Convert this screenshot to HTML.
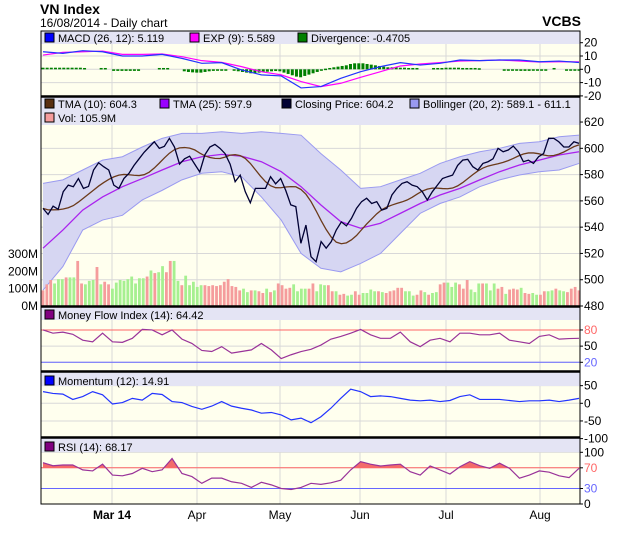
<!DOCTYPE html>
<html><head><meta charset="utf-8"><style>
html,body{margin:0;padding:0;background:#fff;}
svg{display:block;font-family:"Liberation Sans",Arial,sans-serif;}
</style></head><body>
<svg id="chart" width="620" height="535" viewBox="0 0 620 535" xmlns="http://www.w3.org/2000/svg">
<text x="40" y="14" font-size="14" font-weight="bold">VN Index</text>
<text x="40" y="27" font-size="12">16/08/2014 - Daily chart</text>
<text x="581" y="26" font-size="14" font-weight="bold" text-anchor="end">VCBS</text>
<g id="panels"></g>
<g id="marks"></g>
<g id="frame"></g>
</svg>
<script>
// ---------- data ----------
const closePrices=[554.3,549.7,556,553.6,567,572,570.8,577,569.5,571,583.5,589,586,583.5,572,569.5,577,581,587,592,597,601,605,600,601.5,607.6,601,588,592,594,588,582,595,601,603,600,596,588,574.6,579.6,567,558.6,569.5,569.5,569.5,578.4,573,577,568,557,555.6,527.7,541.6,517.5,513.7,529,524,529,537.8,544,541,546.7,554.3,559.4,562,558,559.4,553,554.3,564.5,569.5,573.3,574.6,572,570.8,567,560.7,567,572,577,578.4,579.6,587,591,591.6,586,583.5,588.5,589.8,592,600,597.4,598.7,601.7,597.4,589.8,591,588.5,593.6,596,607.6,607.6,605,601,601,605,603.8];
const bollUpper=[573.3,576,583.5,591,593.6,601,607.6,611.4,611.4,612.6,611.4,612.6,611.4,610,596,583.5,569.5,570.8,576,581,588.5,593.6,597.4,600,603.8,605,608.8,610];
const bollLower=[492,510,537.8,545.4,549,560.7,568,576,581,582.2,578.4,563,545.4,520,508.7,506,512.4,520,535.3,550.5,558,563,570.8,576,579.7,582.2,583.5,588.5];
const tma25=[524,537.8,553,563,570.8,577,583.5,589.8,593.6,595.4,594,589.8,582.2,570.8,556.9,544.2,539.2,543,550.5,558,564.5,569.5,576,582.2,587.3,591,594.9,597.4];
const volume=[90,125,150,130,155,155,165,165,165,260,130,125,145,150,225,125,140,125,100,135,150,145,155,170,130,160,160,170,205,190,195,230,195,260,260,145,120,175,120,140,110,120,120,115,120,115,120,140,155,115,110,90,100,80,90,90,85,75,100,80,90,130,120,100,105,125,85,100,100,100,130,85,125,120,120,85,85,65,70,60,65,85,65,75,75,95,85,85,80,75,85,90,105,105,85,85,60,65,90,80,65,75,80,125,135,135,110,135,125,100,150,95,80,130,130,130,90,130,100,110,70,95,100,95,105,75,70,75,65,65,85,85,90,100,90,85,80,100,110,90];
const volDir="rrrgggrggrrgggrgrrgggggggggrgrggrrggrgggggrrrrrrrrrrggrgrrgrgrrrrggggrrgggrrgrrggrrggggrgrrrrrgggrrgrggrrgggrrrgggrgggrrgrrrgrrggrrggrggr";
const macdLine=[13.2,12,14,13.2,10,10,11.2,8.2,4.5,5,-0.5,-4.2,-5,-14,-13,-6.8,-1.8,2,5,3.2,4.5,7,6.5,7,7,5.7,6.2,5.1];
const expLine=[10.7,12.7,13.2,13.7,11.2,11.2,11.5,9.5,6.5,5.2,2,-1.8,-4.2,-9.2,-13,-10.5,-6,-1.8,2.5,4,5,6.2,6.5,7,6.2,5.5,5.7,5.6];
const divergence=[1.2,1.2,1.2,1.2,1.2,1.2,1.2,1.2,1.2,1.2,1,0,0,0,1,1,0,-1.2,-1.2,-1.2,-1.2,-1.2,-1.2,-1.2,0,0,0,0,1,1,1,0,0,0,-1.5,-2,-2.3,-2.5,-2.5,-2,-1.5,-1.2,-1,-1,-0.5,0,-0.8,-1.5,-2,-2.5,-3,-3,-2.5,-2,-1.8,-1.5,-1.3,-1.5,-2.5,-3.5,-4.5,-5.5,-6,-5,-4,-3,-2,-0.5,0.5,1,1.5,2,2.5,3,4,4.5,4.5,4.5,4,3.5,3,2.5,2,1.5,1.5,1.5,1.2,1.2,1,1,1,0,0,0,1,1,1,1.2,1.2,1.2,1.2,1,1,1,1,0.8,0,0,0,0,0,-0.8,-0.8,-1,-1,-1.2,-1.2,-1.2,-1,-1,-1,-0.8,0,1,0,0,-1,-1,-1,-0.5];
const mfi=[80,74,76,72,61,58,74,58,57,64.5,81,80,71,80,63,55,42,40,49,37,40,43,55,43,27,34,40,44,52,63,68,74,81,71,64.5,64.5,76,58,49,61,64.5,58,74,74,71,71,74,61,58,55,68,71,63,64,64.5];
const momentum=[33,28,26,11,19,33,24,-2,2,14,9,28,25,5,2,-9,-17,-8,5,-8,-14,-19,-28,-26,-33,-47,-42,-55,-38,-14,14,40,33,19,21,19,14,9,7,9,5,8,19,24,11,11,11,8,5,7,7,9,5,9,14];
const rsi=[80,74,75.5,75.5,66,64,77,56,54.5,59,69,62.5,66,88,59,53,40,50,50,43,40,32,42,37,30,28,32,40,38,41,46,66,82,77,73.5,75.5,77,62.5,56,73.5,66,58,72,82,74,69,79,69,50,56,64,61.5,54.5,51,69];
const monthLabels=["Mar 14","Apr","May","Jun","Jul","Aug"];
const monthPos=[112,197,280,360,446,540];
const priceTicks=[620,600,580,560,540,520,500,480];
const volTicks=[0,100,200,300];
const macdTicks=[20,10,0,-10,-20];
const mfiTicks=[80,50,20];
const momTicks=[50,0,-50,-100];
const rsiTicks=[100,70,30,0];

// ---------- scales ----------
const X0=41,X1=580,XS=43,XE=579;
const xIdx=(i,n)=>XS+i*(XE-XS)/(n-1);
const yMacd=v=>69.3-v*1.33;
const yPrice=v=>306-(v-480)*1.314;
const yVol=v=>306-v*0.1733;
const yMfi=v=>362.3-(v-20)*0.539;
const yMom=v=>403.3-v*0.353;
const yRsi=v=>504-v*0.517;
const NS="http://www.w3.org/2000/svg";
function mk(parent,tag,attrs,txt){const e=document.createElementNS(NS,tag);for(const k in attrs)e.setAttribute(k,attrs[k]);if(txt!==undefined)e.textContent=txt;parent.appendChild(e);return e;}
const P=document.getElementById('panels'),M=document.getElementById('marks'),F=document.getElementById('frame');
const lineD=(arr,ys)=>arr.map((v,i)=>(i?'L':'M')+xIdx(i,arr.length).toFixed(2)+' '+ys(v).toFixed(2)).join(' ');

// ---------- panel backgrounds ----------
const panels=[
 {name:'macd',top:31,bot:96,head:44},
 {name:'price',top:97,bot:306,head:125},
 {name:'mfi',top:307,bot:371,head:320},
 {name:'momentum',top:372,bot:437,head:386},
 {name:'rsi',top:438,bot:504,head:452}];
panels.forEach(p=>{
 let r=mk(P,'rect',{x:X0,y:p.top,width:X1-X0,height:p.bot-p.top,fill:'#ffffee'});
 
 
 monthPos.forEach(x=>{let g=mk(P,'line',{x1:x,x2:x,y1:p.top,y2:p.bot,stroke:'#d8d8d8','stroke-width':1});
  
  });
});
function hgrid(ticks,ys,top,bot){ticks.forEach(t=>{const y=ys(t);if(y>top+1&&y<bot-1){let g=mk(P,'line',{x1:X0,x2:X1,y1:y,y2:y,stroke:'#d8d8d8','stroke-width':1});
 
 }});}
hgrid(macdTicks,yMacd,31,96);hgrid(priceTicks,yPrice,97,306);hgrid(mfiTicks,yMfi,307,371);hgrid(momTicks,yMom,372,437);hgrid(rsiTicks,yRsi,438,504);
panels.forEach(p=>{let h=mk(P,'rect',{x:X0,y:p.top,width:X1-X0,height:p.head-p.top,fill:'#e4e4f4'});
 
 });

// ---------- MACD ----------
divergence.forEach((v,i)=>{if(v===0)return;const x=xIdx(i,divergence.length);const y0=yMacd(0),y1=yMacd(v);
 let b=mk(M,'rect',{x:x-1.5,y:Math.min(y0,y1),width:3,height:Math.max(1.5,Math.abs(y1-y0)),fill:'#008000'});
 
 });
let ex=mk(M,'path',{d:lineD(expLine,yMacd),fill:'none',stroke:'#ff00ff','stroke-width':1.2});


let mc=mk(M,'path',{d:lineD(macdLine,yMacd),fill:'none',stroke:'#2233ff','stroke-width':1.2});



// ---------- price panel ----------
const nb=bollUpper.length;
let bd=bollUpper.map((v,i)=>(i?'L':'M')+xIdx(i,nb)+' '+yPrice(v)).join(' ');
for(let i=nb-1;i>=0;i--)bd+=' L'+xIdx(i,nb)+' '+yPrice(bollLower[i]);
let band=mk(M,'path',{d:bd+' Z',fill:'#d6d6f2',stroke:'none'});


let bu=mk(M,'path',{d:lineD(bollUpper,yPrice),fill:'none',stroke:'#9a9af0','stroke-width':1});


let bl=mk(M,'path',{d:lineD(bollLower,yPrice),fill:'none',stroke:'#9a9af0','stroke-width':1});


volume.forEach((v,i)=>{const x=xIdx(i,volume.length);
 let b=mk(M,'rect',{x:x-1.4,y:yVol(v),width:2.8,height:306-yVol(v),fill:volDir[i]==='g'?'#a6f090':'#f59c9c'});
 
 });
function sma(a,w){return a.map((_,i)=>{const s=a.slice(Math.max(0,i-w+1),i+1);return s.reduce((p,c)=>p+c,0)/s.length;});}
const tma10=sma(sma(closePrices,5),6);
let t25=mk(M,'path',{d:lineD(tma25,yPrice),fill:'none',stroke:'#aa22ee','stroke-width':1.3});


let t10=mk(M,'path',{d:lineD(tma10,yPrice),fill:'none',stroke:'#6b3a1a','stroke-width':1.3});


let cl=mk(M,'path',{d:lineD(closePrices,yPrice),fill:'none',stroke:'#000033','stroke-width':1.3});



// ---------- MFI ----------
[[80,'#ff6666'],[20,'#6666ff']].forEach(([v,c])=>{let l=mk(M,'line',{x1:X0,x2:X1,y1:yMfi(v),y2:yMfi(v),stroke:c,'stroke-width':1});
 
 });
let mf=mk(M,'path',{d:lineD(mfi,yMfi),fill:'none',stroke:'#993399','stroke-width':1.2});



// ---------- Momentum ----------
let mo=mk(M,'path',{d:lineD(momentum,yMom),fill:'none',stroke:'#2233ff','stroke-width':1.2});



// ---------- RSI ----------
const y70=yRsi(70);
let cp=mk(M,'clipPath',{id:'above70'});mk(cp,'rect',{x:X0,y:438,width:X1-X0,height:y70-438});
let rf=mk(M,'path',{d:lineD(rsi,yRsi)+` L${XE} ${y70} L${XS} ${y70} Z`,fill:'#f26b6b',stroke:'none','clip-path':'url(#above70)'});


[[70,'#ff6666'],[30,'#6666ff']].forEach(([v,c])=>{let l=mk(M,'line',{x1:X0,x2:X1,y1:yRsi(v),y2:yRsi(v),stroke:c,'stroke-width':1});
 
 });
let rl=mk(M,'path',{d:lineD(rsi,yRsi),fill:'none',stroke:'#993399','stroke-width':1.2});



// ---------- frame, ticks, legends ----------
let fr=mk(F,'rect',{x:X0,y:31,width:X1-X0,height:473,fill:'none',stroke:'#000','stroke-width':1});


[96.5,306.5,371.5,437.5].forEach(y=>{let s=mk(F,'line',{x1:X0,x2:X1,y1:y,y2:y,stroke:'#000','stroke-width':2.5});
 
 });
function ticks(arr,ys,col){arr.forEach(t=>{const y=ys(t);
 let tk=mk(F,'line',{x1:X1,x2:X1+3,y1:y,y2:y,stroke:'#000'});
 
 
 let lb=mk(F,'text',{x:X1+4,y:y+4,'font-size':12,fill:col?col(t):'#000'},String(t));
 
 });}
ticks(macdTicks,yMacd);ticks(priceTicks,yPrice);
ticks(mfiTicks,yMfi,t=>t===80?'#ff6666':t===20?'#6666ff':'#000');
ticks(momTicks,yMom);
ticks(rsiTicks,yRsi,t=>t===70?'#ff6666':t===30?'#6666ff':'#000');
volTicks.forEach(t=>{let lb=mk(F,'text',{x:38,y:yVol(t)+4,'font-size':12,'text-anchor':'end'},t+'M');
 
 });
monthLabels.forEach((m,i)=>{let lb=mk(F,'text',{x:monthPos[i],y:519,'font-size':12,'text-anchor':'middle','font-weight':i===0?'bold':'normal'},m);
 
 });
function legend(x,y,color,label){
 let b=mk(F,'rect',{x:x,y:y-9,width:9,height:9,fill:color,stroke:'#000','stroke-width':1});
 
 
 let t=mk(F,'text',{x:x+13,y:y,'font-size':11},label);
 
 }
legend(45,42,'#0000ff','MACD (26, 12): 5.119');
legend(190,42,'#ff00ff','EXP (9): 5.589');
legend(298,42,'#008000','Divergence: -0.4705');
legend(45,108,'#5a3010','TMA (10): 604.3');
legend(160,108,'#9900ff','TMA (25): 597.9');
legend(282,108,'#000033','Closing Price: 604.2');
legend(410,108,'#9a9af0','Bollinger (20, 2): 589.1 - 611.1');
legend(45,122,'#f59c9c','Vol: 105.9M');
legend(45,319,'#800080','Money Flow Index (14): 64.42');
legend(45,385,'#0000ff','Momentum (12): 14.91');
legend(45,451,'#800080','RSI (14): 68.17');
</script>
</body></html>
